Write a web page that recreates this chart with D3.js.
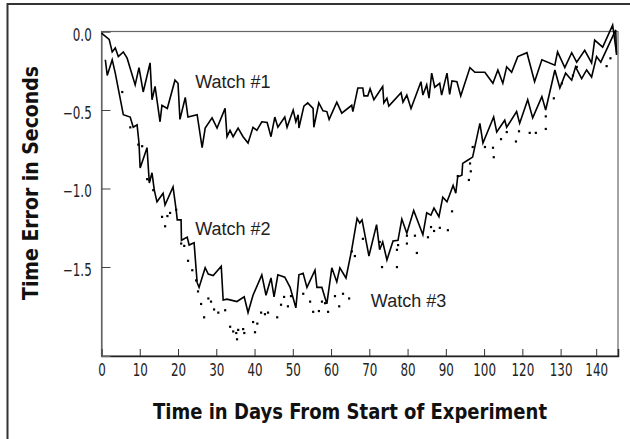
<!DOCTYPE html>
<html>
<head>
<meta charset="utf-8">
<script src="https://cdn.jsdelivr.net/npm/d3@7"></script>
<style>
  body { margin: 0; background: #fff; }
  .tick text { font-family: "DejaVu Sans", sans-serif; font-size: 17px; fill: #222; }
  .ttl { font-family: "DejaVu Sans", sans-serif; font-weight: bold; font-size: 21px; fill: #111; }
  .lbl { font-family: "Liberation Sans", Arial, sans-serif; font-size: 18px; fill: #222; }
</style>
</head>
<body>
<svg id="chart"></svg>
<script>
// days and time error (seconds)
const watch1Days = [0, 2.0, 2.8, 3.6, 4.4, 5.7, 6.7, 8.8, 9.8, 10.9, 12.7, 13.2, 14.0, 15.3, 15.8, 17.2, 19.2, 20.0, 20.5, 21.9, 22.6, 25.0, 26.3, 27.1, 28.9, 30.2, 32.3, 32.8, 33.6, 34.4, 35.7, 37.0, 38.3, 39.6, 40.6, 41.9, 43.3, 44.3, 45.3, 46.1, 47.9, 48.5, 50.1, 50.8, 51.4, 51.6, 52.9, 53.9, 55.3, 55.5, 56.8, 57.9, 58.9, 59.5, 61.5, 62.8, 65.4, 65.7, 67.0, 68.3, 68.6, 69.6, 70.2, 71.2, 73.5, 73.8, 74.6, 75.1, 78.3, 78.8, 79.8, 80.9, 83.5, 84.0, 85.0, 85.6, 86.3, 87.1, 88.4, 88.9, 90.3, 91.0, 91.6, 92.9, 93.9, 96.3, 97.6, 100.2, 102.3, 103.6, 104.9, 105.9, 107.2, 108.8, 111.2, 113.2, 115.1, 118.5, 119.2, 121.1, 122.9, 124.2, 126.3, 128.1, 128.9, 131.0, 133.6, 134.6];
const watch1Err = [-0.01, -0.05, -0.13, -0.105, -0.16, -0.13, -0.17, -0.34, -0.23, -0.385, -0.20, -0.435, -0.35, -0.575, -0.47, -0.49, -0.31, -0.33, -0.56, -0.42, -0.545, -0.53, -0.74, -0.615, -0.55, -0.615, -0.49, -0.67, -0.63, -0.67, -0.615, -0.67, -0.71, -0.61, -0.63, -0.575, -0.58, -0.67, -0.545, -0.61, -0.545, -0.61, -0.50, -0.575, -0.53, -0.615, -0.475, -0.455, -0.49, -0.61, -0.455, -0.505, -0.51, -0.56, -0.45, -0.52, -0.47, -0.51, -0.36, -0.36, -0.41, -0.41, -0.365, -0.435, -0.35, -0.455, -0.425, -0.475, -0.39, -0.45, -0.405, -0.49, -0.32, -0.405, -0.34, -0.425, -0.265, -0.355, -0.33, -0.405, -0.265, -0.40, -0.315, -0.32, -0.41, -0.23, -0.26, -0.26, -0.33, -0.245, -0.33, -0.225, -0.26, -0.16, -0.135, -0.32, -0.18, -0.215, -0.13, -0.23, -0.135, -0.195, -0.12, -0.20, -0.055, -0.10, 0.04, -0.135];

const watch2Days = [1.0, 1.5, 2.8, 3.6, 5.7, 7.5, 8.3, 9.3, 9.8, 10.1, 11.9, 12.5, 13.2, 13.8, 14.5, 16.1, 16.6, 18.7, 19.5, 19.8, 20.8, 20.9, 22.4, 22.9, 24.2, 25.0, 25.5, 27.1, 27.9, 29.2, 31.3, 31.8, 32.8, 35.4, 37.3, 38.3, 39.6, 41.9, 43.0, 44.3, 45.1, 46.1, 47.9, 49.3, 50.8, 51.6, 52.7, 53.7, 55.8, 56.3, 57.6, 58.9, 60.2, 61.5, 62.3, 63.9, 65.4, 66.8, 67.5, 68.1, 69.9, 71.9, 72.7, 73.5, 74.6, 76.2, 77.5, 78.5, 79.8, 81.6, 84.0, 85.0, 86.1, 86.9, 88.2, 89.2, 90.3, 91.0, 91.9, 92.6, 93.1, 94.2, 94.4, 95.7, 97.0, 98.9, 99.7, 102.5, 103.3, 105.4, 105.9, 108.5, 109.3, 111.4, 112.7, 115.1, 116.1, 118.5, 119.8, 121.3, 122.9, 123.9, 125.5, 126.8, 128.1, 129.4, 130.5, 134.4, 134.6];
const watch2Err = [-0.18, -0.28, -0.18, -0.265, -0.53, -0.545, -0.61, -0.595, -0.71, -0.87, -0.74, -0.965, -0.90, -1.01, -1.085, -1.03, -1.105, -0.99, -1.135, -1.20, -1.20, -1.33, -1.31, -1.36, -1.345, -1.60, -1.63, -1.505, -1.545, -1.555, -1.495, -1.71, -1.705, -1.72, -1.69, -1.79, -1.68, -1.55, -1.68, -1.57, -1.69, -1.55, -1.565, -1.63, -1.76, -1.55, -1.54, -1.63, -1.52, -1.63, -1.63, -1.735, -1.505, -1.595, -1.505, -1.57, -1.39, -1.19, -1.22, -1.20, -1.43, -1.23, -1.39, -1.34, -1.455, -1.335, -1.33, -1.195, -1.285, -1.14, -1.295, -1.155, -1.17, -1.125, -1.18, -1.055, -1.085, -1.04, -0.98, -1.03, -0.925, -0.915, -0.84, -0.82, -0.80, -0.585, -0.71, -0.545, -0.64, -0.565, -0.61, -0.51, -0.585, -0.435, -0.55, -0.415, -0.50, -0.245, -0.36, -0.265, -0.31, -0.225, -0.30, -0.245, -0.29, -0.16, -0.195, 0.01, -0.15];

const watch3Days = [5.4, 7.5, 9.6, 10.6, 11.9, 12.5, 13.5, 15.8, 16.6, 17.2, 17.9, 19.5, 20.8, 21.6, 22.6, 23.7, 24.7, 25.2, 26.0, 26.8, 27.9, 28.6, 29.4, 30.5, 32.3, 33.6, 34.4, 35.2, 35.4, 35.7, 37.0, 37.3, 39.6, 40.1, 40.7, 41.7, 42.7, 43.5, 45.9, 46.9, 47.7, 48.7, 49.5, 52.7, 54.5, 55.3, 56.8, 57.6, 58.4, 59.2, 61.0, 62.1, 63.1, 64.7, 65.4, 66.2, 68.3, 72.7, 73.3, 77.2, 77.2, 77.5, 79.8, 79.8, 81.9, 82.4, 85.3, 86.1, 86.9, 88.4, 90.5, 91.6, 93.1, 96.0, 96.3, 96.5, 97.0, 100.2, 102.3, 102.5, 104.4, 105.9, 108.3, 109.1, 111.9, 113.5, 116.1, 116.1, 118.2, 120.3, 123.2, 124.2, 132.0, 133.0];
const watch3Err = [-0.385, -0.61, -0.72, -0.73, -0.94, -0.945, -1.01, -1.18, -1.24, -1.175, -1.155, -1.135, -1.35, -1.365, -1.46, -1.52, -1.585, -1.655, -1.735, -1.82, -1.70, -1.72, -1.77, -1.79, -1.775, -1.88, -1.91, -1.92, -1.96, -1.90, -1.895, -1.92, -1.85, -1.915, -1.86, -1.79, -1.80, -1.79, -1.82, -1.74, -1.69, -1.75, -1.685, -1.67, -1.72, -1.785, -1.78, -1.72, -1.73, -1.785, -1.685, -1.75, -1.67, -1.70, -1.40, -1.43, -1.32, -1.34, -1.50, -1.50, -1.39, -1.36, -1.30, -1.35, -1.30, -1.41, -1.31, -1.245, -1.27, -1.25, -1.265, -1.145, -0.92, -0.945, -0.84, -0.89, -0.735, -0.735, -0.74, -0.80, -0.685, -0.64, -0.70, -0.635, -0.645, -0.645, -0.62, -0.54, -0.425, -0.33, -0.28, -0.225, -0.22, -0.17];

// axis ticks as printed on the original (the label after 100 skips 110)
const xTickDays = [0, 10, 20, 30, 40, 50, 60, 70, 80, 90, 100, 110, 120, 129.3];
const xTickLabels = ["0", "10", "20", "30", "40", "50", "60", "70", "80", "90", "100", "120", "130", "140"];
const yTickValues = [0, -0.5, -1.0, -1.5];
const yTickLabels = ["0.0", "\u22120.5", "\u22121.0", "\u22121.5"];

const seriesLabels = [
  { text: "Watch #1", day: 24.5, err: -0.36 },
  { text: "Watch #2", day: 24.5, err: -1.295 },
  { text: "Watch #3", day: 70.4, err: -1.755 }
];

const W = 630, H = 439;
const margin = { top: 31.5, right: 12, bottom: 83, left: 101.5 };

const svg = d3.select('#chart')
  .attr('width', W)
  .attr('height', H);

// outer frame
svg.append('rect')
  .attr('x', 7.5).attr('y', 4)
  .attr('width', W + 10).attr('height', H + 10)
  .attr('fill', 'none')
  .attr('stroke', '#333')
  .attr('stroke-width', 2);

const x = d3.scaleLinear().domain([0, 135]).range([margin.left, W - margin.right]);
const y = d3.scaleLinear().domain([-2.067, 0]).range([H - margin.bottom, margin.top]);

// plot box
svg.append('rect')
  .attr('x', x(0)).attr('y', y(0))
  .attr('width', x(135) - x(0)).attr('height', y(-2.067) - y(0))
  .attr('fill', 'none')
  .attr('stroke', '#666')
  .attr('stroke-width', 1.2);

// narrow look for tick labels: squeeze horizontally
const squeeze = 0.7;

const xAxis = d3.axisBottom(x)
  .tickValues(xTickDays)
  .tickSize(-7)
  .tickPadding(8)
  .tickFormat((d, i) => xTickLabels[i]);
const gx = svg.append('g')
  .attr('transform', `translate(0,${y(-2.067)})`)
  .call(xAxis);
gx.select('.domain').attr('stroke', '#222').attr('stroke-width', 1.5);
gx.selectAll('.tick line').attr('stroke', '#333');
gx.selectAll('.tick text').attr('transform', `scale(${squeeze},1)`);

const yAxis = d3.axisLeft(y)
  .tickValues(yTickValues)
  .tickSize(-9)
  .tickPadding(14)
  .tickFormat((d, i) => yTickLabels[i]);
const gy = svg.append('g')
  .attr('transform', `translate(${x(0)},0)`)
  .call(yAxis);
gy.select('.domain').attr('stroke', '#666').attr('stroke-width', 1.2);
gy.selectAll('.tick line').attr('stroke', '#444');
gy.selectAll('.tick text')
  .attr('dy', '0.5em')
  .attr('transform', `scale(${squeeze},1)`);

const line = d3.line()
  .x(d => x(d[0]))
  .y(d => y(d[1]));

const w1 = watch1Days.map((d, i) => [d, watch1Err[i]]);
const w2 = watch2Days.map((d, i) => [d, watch2Err[i]]);
const w3 = watch3Days.map((d, i) => [d, watch3Err[i]]);

svg.append('path')
  .datum(w1)
  .attr('d', line)
  .attr('fill', 'none')
  .attr('stroke', '#000')
  .attr('stroke-width', 1.6)
  .attr('stroke-linejoin', 'miter');

svg.append('path')
  .datum(w2)
  .attr('d', line)
  .attr('fill', 'none')
  .attr('stroke', '#000')
  .attr('stroke-width', 1.6)
  .attr('stroke-linejoin', 'miter');

// watch #3 shows only as scattered dots
svg.selectAll('.dot')
  .data(w3)
  .enter()
  .append('rect')
  .attr('class', 'dot')
  .attr('x', d => x(d[0]) - 1)
  .attr('y', d => y(d[1]) - 1)
  .attr('width', 2.2)
  .attr('height', 2.2)
  .attr('fill', '#000');

svg.selectAll('.lbl')
  .data(seriesLabels)
  .enter()
  .append('text')
  .attr('class', 'lbl')
  .attr('x', d => x(d.day))
  .attr('y', d => y(d.err))
  .text(d => d.text);

// axis titles (condensed bold in the original)
svg.append('text')
  .attr('class', 'ttl')
  .attr('x', 350)
  .attr('y', 419)
  .attr('text-anchor', 'middle')
  .attr('textLength', 394)
  .attr('lengthAdjust', 'spacingAndGlyphs')
  .text('Time in Days From Start of Experiment');

svg.append('text')
  .attr('class', 'ttl')
  .attr('transform', 'translate(38,183) rotate(-90)')
  .attr('text-anchor', 'middle')
  .attr('textLength', 234)
  .attr('lengthAdjust', 'spacingAndGlyphs')
  .text('Time Error in Seconds');
</script>
</body>
</html>
